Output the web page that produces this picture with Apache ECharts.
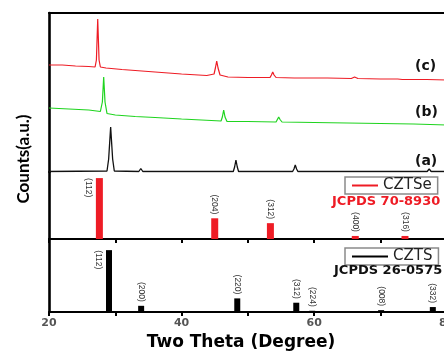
<!DOCTYPE html>
<html>
<head>
<meta charset="utf-8">
<script src="https://cdn.jsdelivr.net/npm/echarts@6/dist/echarts.min.js"></script>
<style>
html,body{margin:0;padding:0;background:#fff;overflow:hidden;width:444px;height:352px;}
#chart{width:470px;height:352px;}
</style>
</head>
<body>
<div id="chart"></div>
<script>
// ---- Data ----
// Trace (c) – red
const cTheta  = [20, 22, 24, 26, 26.95, 27.15, 27.35, 27.55, 27.75, 28.6, 31, 35, 40, 43.8, 44.9, 45.1, 45.3, 45.5, 45.8, 47, 50, 53.35, 53.55, 53.75, 53.95, 54.25, 57, 62, 65.6, 66.1, 66.6, 70, 72.6, 72.9, 73.3, 77, 80, 82];
const cCounts = [107, 107, 106, 105.5, 105, 112, 153, 112, 105, 104, 102.5, 100.5, 98, 96.5, 98, 104, 111, 104, 97, 95, 94.5, 94.5, 97, 100, 97, 94.5, 94, 94, 93.5, 95, 93.5, 93, 93, 94, 92.5, 92.5, 92, 92];
// Trace (b) – green
const bTheta  = [20, 23, 26, 27.75, 28.05, 28.25, 28.45, 28.75, 30, 33, 36, 40, 43, 45.95, 46.15, 46.35, 46.55, 46.85, 50, 54.25, 54.45, 54.65, 54.85, 55.15, 60, 65, 70, 75, 80, 82];
const bCounts = [64, 63, 62, 60.5, 70, 95, 70, 58.5, 57, 55.5, 54.5, 53, 52, 51, 55, 62, 55, 50.5, 50.5, 50, 52.5, 55, 52.5, 50, 49.5, 49, 48.5, 48, 47, 47];
// Trace (a) – black
const aTheta  = [20, 28.75, 29.0, 29.3, 29.6, 29.85, 33.55, 33.85, 34.15, 40, 47.8, 48.0, 48.2, 48.4, 48.6, 56.75, 56.95, 57.15, 57.35, 57.55, 59.4, 59.65, 59.9, 69.8, 70.05, 70.3, 77.05, 77.35, 77.65, 82];
const aCounts = [0.5, 1, 13, 45, 13, 1, 0.5, 3.5, 0.5, 0.5, 0.5, 5, 12, 5, 0.5, 0.5, 3, 7, 3, 0.5, 0.5, 2, 0.5, 0.5, 2, 0.5, 0.5, 3, 0.5, 0.5];
// Reference pattern CZTSe – JCPDS 70-8930
const czseTheta = [27.6, 45.0, 53.4, 66.2, 73.7];
const czseInt   = [100, 34, 26, 5, 5];
const czseHkl   = ['(112)', '(204)', '(312)', '(400)', '(316)'];
// Reference pattern CZTS – JCPDS 26-0575
const cztsTheta = [29.05, 33.9, 48.4, 57.3, 59.7, 70.1, 77.9];
const cztsInt   = [100, 10, 22, 15, 2, 3, 8];
const cztsHkl   = ['(112)', '(200)', '(220)', '(312)', '(224)', '(008)', '(332)'];
// Axis ticks
const xMin = 20, xMax = 82, xStep = 10;
const xLabelTicks = [20, 40, 60, 80];

// ---- Build ----
const zip = (xs, ys) => xs.map((x, i) => [x, ys[i]]);
const RED = '#ee1c25', GREEN = '#1fd41f', BLACK = '#111';

function barItems(thetas, ints, hkls) {
  const maxI = Math.max(...ints);
  return thetas.map((t, i) => {
    const side = ints[i] === maxI;
    return {
      value: [t, ints[i]],
      name: hkls[i],
      label: side ? {position: [-8, 0], align: 'left'} : {position: 'top', align: 'right', distance: 4}
    };
  });
}
const barLabel = {
  show: true, formatter: '{b}', rotate: -90, verticalAlign: 'middle', align: 'right',
  fontSize: 8.5, color: '#333', fontFamily: 'Liberation Sans, Arial, sans-serif'
};

const L = 49, W = 411;
const axisLineStyle = {color: '#000', width: 2.2};
function xAx(gi, opts) {
  return Object.assign({
    type: 'value', gridIndex: gi, min: xMin, max: xMax, interval: xStep,
    splitLine: {show: false}, axisTick: {show: false}, axisLabel: {show: false},
    axisLine: {show: true, onZero: false, lineStyle: axisLineStyle}
  }, opts);
}
function yAx(gi, max) {
  return {
    type: 'value', gridIndex: gi, min: 0, max: max,
    splitLine: {show: false}, axisTick: {show: false}, axisLabel: {show: false},
    axisLine: {show: true, onZero: false, lineStyle: {color: '#000', width: 2.6}}
  };
}

const option = {
  backgroundColor: '#fff',
  animation: false,
  grid: [
    {left: L, top: 13, width: W, height: 159},
    {left: L, top: 172, width: W, height: 67},
    {left: L, top: 239, width: W, height: 73}
  ],
  xAxis: [
    xAx(0, {position: 'top'}),
    xAx(1, {position: 'bottom', axisTick: {show: true, inside: false, length: 4, lineStyle: {width: 2, color: '#000'}}}),
    xAx(2, {position: 'bottom',
      axisTick: {show: true, inside: false, length: 4, lineStyle: {width: 2, color: '#000'}},
      axisLabel: {show: true, margin: 6, color: '#555', fontSize: 11, fontWeight: 'bold',
        fontFamily: 'DejaVu Sans, Verdana, sans-serif',
        formatter: v => xLabelTicks.includes(v) ? String(v) : ''}})
  ],
  yAxis: [yAx(0, 159), yAx(1, 110), yAx(2, 118)],
  legend: [
    {data: ['CZTSe'], left: 345, top: 177, orient: 'horizontal', icon: 'rect',
      itemWidth: 26, itemHeight: 2, itemGap: 5, padding: [1, 6, 1, 7],
      borderColor: '#8a8a8a', borderWidth: 1.5, selectedMode: false,
      textStyle: {fontSize: 15, color: '#222', fontFamily: 'DejaVu Sans, sans-serif'}},
    {data: ['CZTS'], left: 345, top: 248, orient: 'horizontal', icon: 'rect',
      itemWidth: 36, itemHeight: 2, itemGap: 5, padding: [1, 6, 1, 7],
      borderColor: '#8a8a8a', borderWidth: 1.5, selectedMode: false,
      textStyle: {fontSize: 15, color: '#222', fontFamily: 'DejaVu Sans, sans-serif'}}
  ],
  title: [
    {text: 'JCPDS 70-8930', left: 332, top: 195, padding: 0,
      textStyle: {fontSize: 13, fontWeight: 'bold', color: RED, fontFamily: 'DejaVu Sans, Verdana, sans-serif'}},
    {text: 'JCPDS 26-0575', left: 334, top: 264, padding: 0,
      textStyle: {fontSize: 13, fontWeight: 'bold', color: '#111', fontFamily: 'DejaVu Sans, Verdana, sans-serif'}},
    {text: '(c)', left: 415, top: 59, padding: 0,
      textStyle: {fontSize: 14, fontWeight: 'bold', color: '#111', fontFamily: 'DejaVu Sans, Verdana, sans-serif'}},
    {text: '(b)', left: 415, top: 105, padding: 0,
      textStyle: {fontSize: 14, fontWeight: 'bold', color: '#111', fontFamily: 'DejaVu Sans, Verdana, sans-serif'}},
    {text: '(a)', left: 415, top: 154, padding: 0,
      textStyle: {fontSize: 14, fontWeight: 'bold', color: '#111', fontFamily: 'DejaVu Sans, Verdana, sans-serif'}}
  ],
  graphic: [
    {type: 'text', x: 24, y: 159, rotation: Math.PI / 2,
      style: {text: 'Counts(a.u.)', fill: '#000', font: 'bold 17px Lato, "Open Sans", sans-serif',
        textAlign: 'center', textVerticalAlign: 'middle'}},
    {type: 'text', x: 241, y: 343,
      style: {text: 'Two Theta (Degree)', fill: '#000', font: 'bold 17px "DejaVu Sans", Verdana, sans-serif',
        textAlign: 'center', textVerticalAlign: 'middle'}}
  ],
  series: [
    {name: 'c', type: 'line', xAxisIndex: 0, yAxisIndex: 0, data: zip(cTheta, cCounts),
      showSymbol: false, lineStyle: {color: RED, width: 1.2}, itemStyle: {color: RED}},
    {name: 'b', type: 'line', xAxisIndex: 0, yAxisIndex: 0, data: zip(bTheta, bCounts),
      showSymbol: false, lineStyle: {color: GREEN, width: 1.2}, itemStyle: {color: GREEN}},
    {name: 'a', type: 'line', xAxisIndex: 0, yAxisIndex: 0, data: zip(aTheta, aCounts),
      showSymbol: false, lineStyle: {color: BLACK, width: 1.3}, itemStyle: {color: BLACK}},
    {name: 'CZTSe', type: 'bar', xAxisIndex: 1, yAxisIndex: 1, barWidth: 7,
      itemStyle: {color: RED}, label: barLabel, data: barItems(czseTheta, czseInt, czseHkl)},
    {name: 'CZTS', type: 'bar', xAxisIndex: 2, yAxisIndex: 2, barWidth: 6,
      itemStyle: {color: '#000'}, label: barLabel, data: barItems(cztsTheta, cztsInt, cztsHkl)}
  ]
};
const chart = echarts.init(document.getElementById('chart'), null, {renderer: 'canvas'});
chart.setOption(option);
</script>
</body>
</html>
